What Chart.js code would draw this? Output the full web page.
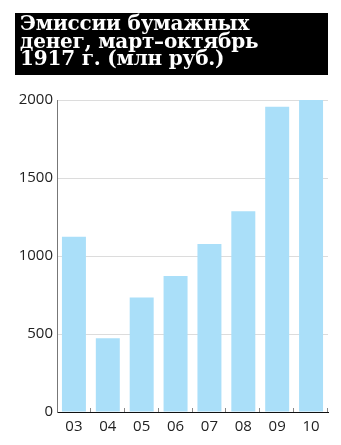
<!DOCTYPE html>
<html>
<head>
<meta charset="utf-8">
<script src="https://cdn.jsdelivr.net/npm/chart.js@4"></script>
<style>
  html, body { margin: 0; padding: 0; background: #fff; }
  #wrap { position: relative; width: 341px; height: 445px; }
  #chart { position: absolute; left: 0; top: 0; }
  #title {
    position: absolute; left: 15px; top: 13px; width: 308px; height: 60px;
    background: #000; color: #fff; padding: 2px 0 0 5px;
    font: bold 20px "DejaVu Serif", serif; line-height: 17.5px;
    white-space: nowrap; letter-spacing: -0.2px;
  }
</style>
</head>
<body>
<div id="wrap">
  <canvas id="chart" width="341" height="445"></canvas>
  <div id="title">Эмиссии бумажных<br>денег, март–октябрь<br>1917 г. (млн руб.)</div>
</div>
<script>
const categories = ['03', '04', '05', '06', '07', '08', '09', '10'];
const emission = [1123, 472, 734, 872, 1077, 1287, 1956, 2000];
const yTicks = [0, 500, 1000, 1500, 2000];

const tickFont = { family: '"Open Sans", sans-serif', size: 15 };

const boundaryTicks = {
  id: 'boundaryTicks',
  afterDraw(chart) {
    const x = chart.scales.x;
    const ctx = chart.ctx;
    const half = (x.getPixelForValue(1) - x.getPixelForValue(0)) / 2;
    const bottom = chart.chartArea.bottom;
    ctx.save();
    ctx.strokeStyle = '#888';
    ctx.lineWidth = 1;
    categories.forEach((c, i) => {
      const px = Math.round(x.getPixelForValue(i) + half) - 0.5;
      ctx.beginPath();
      ctx.moveTo(px, bottom - 4);
      ctx.lineTo(px, bottom);
      ctx.stroke();
    });
    ctx.restore();
  }
};

new Chart(document.getElementById('chart'), {
  type: 'bar',
  data: {
    labels: categories,
    datasets: [{
      data: emission,
      backgroundColor: '#aadff9',
      borderWidth: 0,
      barPercentage: 0.708,
      categoryPercentage: 1
    }]
  },
  options: {
    responsive: false,
    animation: false,
    layout: { padding: { top: 100, right: 13, bottom: 0, left: 0 } },
    plugins: { legend: { display: false }, tooltip: { enabled: false }, title: { display: false } },
    scales: {
      x: {
        afterFit(s) { s.height = 33; },
        grid: { display: true, drawOnChartArea: false, drawTicks: false },
        border: { display: true, color: '#111', width: 1 },
        ticks: { color: '#222', font: tickFont, padding: 6, maxRotation: 0 }
      },
      y: {
        min: 0, max: 2000,
        afterFit(s) { s.width = 57; },
        afterBuildTicks(s) { s.ticks = yTicks.map(v => ({ value: v })); },
        grid: { color: '#dcdcdc', drawTicks: false },
        border: { display: true, color: '#777', width: 1 },
        ticks: { color: '#222', font: tickFont, padding: 4, callback: v => String(v) }
      }
    }
  },
  plugins: [boundaryTicks]
});
</script>
</body>
</html>
